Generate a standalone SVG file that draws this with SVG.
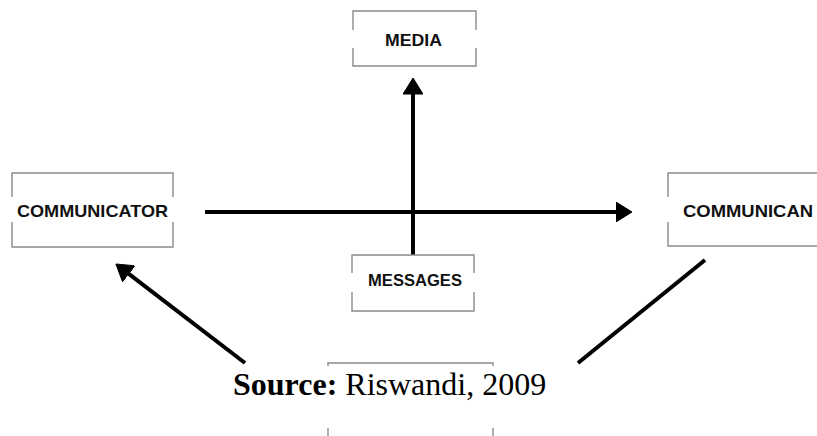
<svg xmlns="http://www.w3.org/2000/svg" width="817" height="436" viewBox="0 0 817 436">
<defs>
<style>
.box{fill:none;stroke:#8a8a8a;stroke-width:1.4}
.lbl{font-family:"Liberation Sans",Arial,sans-serif;font-weight:bold;font-size:17px;fill:#111}
.con{fill:none;stroke:#000;stroke-width:4}
.src{font-family:"Liberation Serif","Times New Roman",serif;font-size:32px;fill:#000}
</style>
<marker id="ah" markerUnits="userSpaceOnUse" markerWidth="17" markerHeight="20" viewBox="0 0 16 20" refX="8" refY="10" orient="auto">
<path d="M0,0 L16,10 L0,20 z" fill="#000" stroke="#000" stroke-width="1" stroke-linejoin="round"/>
</marker>
</defs>
<rect width="817" height="436" fill="#fff"/>
<g id="connectors">
<line class="con" x1="205" y1="212" x2="624" y2="212" marker-end="url(#ah)"/>
<line class="con" x1="413" y1="255" x2="413" y2="86" marker-end="url(#ah)"/>
<line class="con" x1="245" y1="363" x2="122.3" y2="268.9" marker-end="url(#ah)"/>
<line class="con" x1="578" y1="363" x2="705" y2="260"/>
</g>
<g id="media">
<path class="box" d="M353,30 V11 H476 V30 M353,48 V66 H476 V48"/>
<text class="lbl" x="385" y="46" textLength="57" lengthAdjust="spacingAndGlyphs">MEDIA</text>
</g>
<g id="communicator">
<path class="box" d="M12,197 V173 H173 V197 M12,222 V247 H173 V222"/>
<text class="lbl" x="17" y="217" textLength="151" lengthAdjust="spacingAndGlyphs">COMMUNICATOR</text>
</g>
<g id="communican">
<path class="box" d="M668,197 V173 H830 M668,222 V246 H830"/>
<text class="lbl" x="683" y="217" textLength="130" lengthAdjust="spacingAndGlyphs">COMMUNICAN</text>
</g>
<g id="messages">
<path class="box" d="M352,273 V255 H474 V273 M352,292 V311 H474 V292"/>
<text class="lbl" x="368" y="286" textLength="94" lengthAdjust="spacingAndGlyphs">MESSAGES</text>
</g>
<g id="bottom-box">
<path class="box" d="M328,366 V363 H493 V366 M328,428 V436 M493,428 V436"/>
</g>
<text class="src" x="233" y="395"><tspan font-weight="bold">Source:</tspan> Riswandi, 2009</text>
</svg>
